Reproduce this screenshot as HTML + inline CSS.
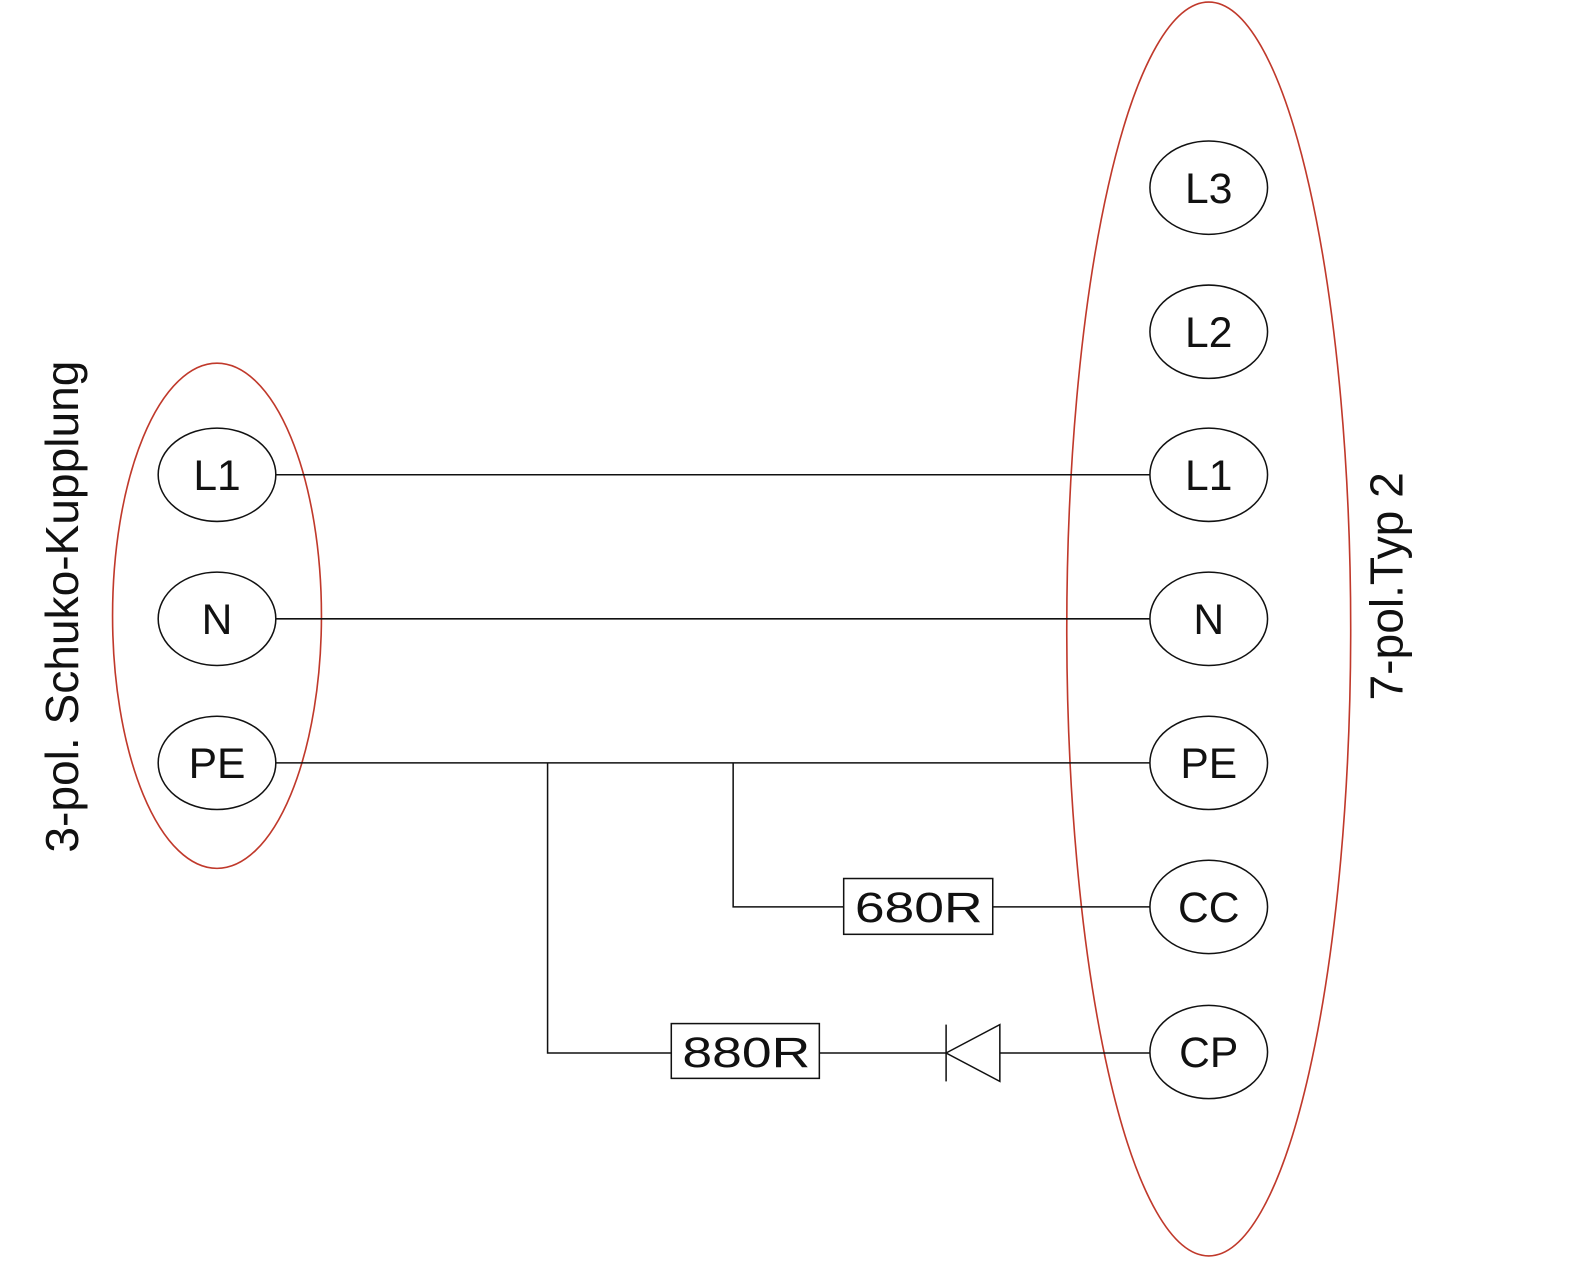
<!DOCTYPE html>
<html><head><meta charset="utf-8"><style>
html,body{margin:0;padding:0;background:#fff;}
svg{display:block;}
text{font-family:"Liberation Sans",sans-serif;fill:#111;}
</style></head><body>
<svg width="1589" height="1263" viewBox="0 0 1567 1245" preserveAspectRatio="none" xmlns="http://www.w3.org/2000/svg">
<g fill="none" stroke="#c0392b" stroke-width="1.6">
<ellipse cx="214" cy="607" rx="103" ry="249"/>
<ellipse cx="1192" cy="620" rx="140" ry="618"/>
</g>
<g fill="none" stroke="#111" stroke-width="1.5">
<ellipse cx="214" cy="468" rx="58" ry="46"/>
<ellipse cx="214" cy="610" rx="58" ry="46"/>
<ellipse cx="214" cy="752" rx="58" ry="46"/>
<ellipse cx="1192" cy="185" rx="58" ry="46"/>
<ellipse cx="1192" cy="327" rx="58" ry="46"/>
<ellipse cx="1192" cy="468" rx="58" ry="46"/>
<ellipse cx="1192" cy="610" rx="58" ry="46"/>
<ellipse cx="1192" cy="752" rx="58" ry="46"/>
<ellipse cx="1192" cy="894" rx="58" ry="46"/>
<ellipse cx="1192" cy="1037" rx="58" ry="46"/>
<line x1="272" y1="468" x2="1134" y2="468"/>
<line x1="272" y1="610" x2="1134" y2="610"/>
<line x1="272" y1="752" x2="1134" y2="752"/>
<polyline points="540,752 540,1038 662,1038"/>
<rect x="662" y="1009" width="146" height="54"/>
<line x1="808" y1="1038" x2="933" y2="1038"/>
<line x1="933" y1="1010" x2="933" y2="1066"/>
<polygon points="933,1038 986,1010 986,1066"/>
<line x1="986" y1="1038" x2="1134" y2="1038"/>
<polyline points="723,752 723,894 832,894"/>
<rect x="832" y="866" width="147" height="55"/>
<line x1="979" y1="894" x2="1134" y2="894"/>
</g>
<g font-size="42" text-anchor="middle">
<text x="214" y="483">L1</text>
<text x="214" y="625">N</text>
<text x="214" y="767">PE</text>
<text x="1192" y="200">L3</text>
<text x="1192" y="342">L2</text>
<text x="1192" y="483">L1</text>
<text x="1192" y="625">N</text>
<text x="1192" y="767">PE</text>
<text x="1192" y="909">CC</text>
<text x="1192" y="1052">CP</text>
<text x="906" y="909" textLength="126" lengthAdjust="spacingAndGlyphs">680R</text>
<text x="736" y="1052" textLength="126" lengthAdjust="spacingAndGlyphs">880R</text>
</g>
<text font-size="46" text-anchor="middle" transform="translate(77,598) rotate(-90)" textLength="485" lengthAdjust="spacingAndGlyphs">3-pol. Schuko-Kupplung</text>
<text font-size="46" text-anchor="middle" transform="translate(1383,578) rotate(-90)" textLength="225" lengthAdjust="spacingAndGlyphs">7-pol.Typ 2</text>
</svg>
</body></html>
